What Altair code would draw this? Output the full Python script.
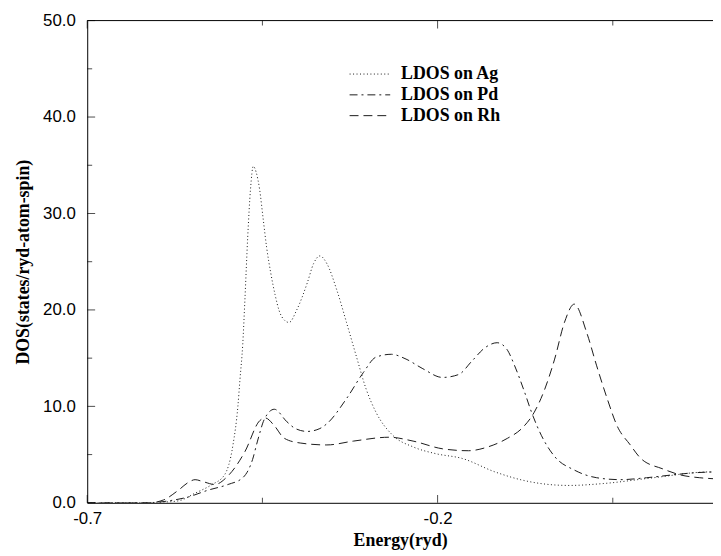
import altair as alt
import pandas as pd

# ---------------- data ----------------
series_names = ["LDOS on Ag", "LDOS on Pd", "LDOS on Rh"]

ag_energy = [-0.700, -0.641, -0.598, -0.570, -0.546, -0.523, -0.504, -0.492, -0.485, -0.482,
             -0.478, -0.475, -0.471, -0.467, -0.463, -0.459, -0.454, -0.449, -0.444, -0.438,
             -0.432, -0.426, -0.418, -0.412, -0.401, -0.386, -0.377, -0.368, -0.358, -0.344,
             -0.330, -0.316, -0.302, -0.288, -0.264, -0.235, -0.203, -0.165, -0.118, -0.076,
             -0.033, -0.012, 0.037, 0.108, 0.188, 0.193]
ag_dos = [0.0, 0.0, 0.05, 0.2, 1.0, 1.85, 2.9, 6.0, 10.0, 12.8,
          16.5, 21.0, 27.5, 32.5, 34.9, 34.3, 32.5, 29.5, 26.5, 23.8,
          21.6, 19.9, 18.9, 18.7, 20.0, 22.8, 24.8, 25.6, 24.8, 22.1,
          18.7, 15.2, 11.8, 9.4, 7.0, 5.8, 5.1, 4.6, 3.2, 2.3,
          1.85, 1.8, 2.0, 2.6, 3.2, 3.2]

pd_energy = [-0.700, -0.612, -0.584, -0.556, -0.528, -0.499, -0.478, -0.464, -0.457, -0.447,
             -0.433, -0.415, -0.403, -0.386, -0.368, -0.358, -0.330, -0.306, -0.288, -0.266,
             -0.245, -0.221, -0.193, -0.170, -0.151, -0.132, -0.115, -0.101, -0.090, -0.076,
             -0.066, -0.052, -0.033, -0.005, 0.027, 0.061, 0.098, 0.136, 0.164, 0.193]
pd_dos = [0.0, 0.0, 0.2, 0.6, 1.3, 1.9, 2.6, 4.5, 6.4, 8.7,
          9.7, 8.4, 7.7, 7.4, 7.7, 8.2, 10.8, 13.5, 15.1, 15.4,
          14.9, 13.9, 13.0, 13.3, 14.7, 16.1, 16.6, 15.9, 14.2, 11.5,
          9.4, 7.0, 4.8, 3.4, 2.6, 2.4, 2.6, 2.9, 3.1, 3.2]

rh_energy = [-0.700, -0.612, -0.591, -0.570, -0.556, -0.546, -0.535, -0.518, -0.499, -0.475,
             -0.454, -0.446, -0.433, -0.419, -0.396, -0.358, -0.320, -0.269, -0.235, -0.193,
             -0.156, -0.128, -0.100, -0.080, -0.062, -0.047, -0.033, -0.019, -0.005, 0.013,
             0.027, 0.042, 0.056, 0.075, 0.090, 0.122, 0.146, 0.174, 0.193]
rh_dos = [0.0, 0.0, 0.3, 1.3, 2.1, 2.4, 2.2, 1.9, 2.8, 5.3,
          8.5, 8.8, 8.0, 6.7, 6.2, 6.0, 6.4, 6.8, 6.4, 5.6,
          5.4, 5.8, 6.7, 7.7, 9.4, 11.8, 14.9, 18.7, 20.6, 17.6,
          14.2, 10.8, 8.0, 6.0, 4.6, 3.5, 2.9, 2.6, 2.5]

x_major = [-0.7, -0.2]
x_minor = [-0.45, 0.05]
y_major = [0, 10, 20, 30, 40, 50]
y_minor = [5, 15, 25, 35, 45]

dash_styles = [[1, 2.5], [8, 4, 2, 4], [9, 5]]

# ---------------- build table ----------------
rows = []
for name, es, ds in zip(series_names, [ag_energy, pd_energy, rh_energy], [ag_dos, pd_dos, rh_dos]):
    for order, (e, d) in enumerate(zip(es, ds)):
        rows.append({"series": name, "energy": e, "dos": d, "order": order})
df = pd.DataFrame(rows)

x_scale = alt.Scale(domain=[-0.7, 0.193], nice=False, zero=False)
y_scale = alt.Scale(domain=[0, 50], nice=False)

label_expr = "datum.value < 0 ? '-' + format(abs(datum.value), '.1f') : format(datum.value, '.1f')"

axis_style = dict(
    ticks=False, tickSize=0, grid=False, domainColor="black", domainWidth=1,
    labelFont="Liberation Sans", labelFontSize=17, labelColor="black", labelFlush=False,
    titleFont="Liberation Serif", titleFontSize=18, titleFontWeight="bold", titleColor="black",
)
x_axis = alt.Axis(values=x_major, labelExpr=label_expr, title="Energy(ryd)",
                  labelPadding=8, titlePadding=5, **axis_style)
y_axis = alt.Axis(values=y_major, labelExpr=label_expr, title="DOS(states/ryd-atom-spin)",
                  labelPadding=12, titlePadding=10, **axis_style)

lines = alt.Chart(df).mark_line(interpolate="monotone", color="#1a1a1a", strokeWidth=1, clip=True).encode(
    x=alt.X("energy:Q", scale=x_scale, axis=x_axis),
    y=alt.Y("dos:Q", scale=y_scale, axis=y_axis),
    strokeDash=alt.StrokeDash("series:N", scale=alt.Scale(domain=series_names, range=dash_styles), legend=None),
    order="order:Q",
)

# inward ticks
def xticks(vals, size, at, sign):
    return alt.Chart(pd.DataFrame({"energy": vals})).mark_tick(
        orient="vertical", size=size, thickness=1, color="black", yOffset=sign * size / 2
    ).encode(x=alt.X("energy:Q", scale=x_scale, axis=x_axis), y=alt.YDatum(at, axis=y_axis))

def yticks(vals, size):
    return alt.Chart(pd.DataFrame({"dos": vals})).mark_tick(
        orient="horizontal", size=size, thickness=1, color="black", xOffset=size / 2
    ).encode(y=alt.Y("dos:Q", scale=y_scale, axis=y_axis), x=alt.XDatum(-0.7, axis=x_axis))

tick_layers = [
    xticks(x_major, 8, 0, -1), xticks(x_minor, 5, 0, -1),
    xticks(x_major, 8, 50, 1), xticks(x_minor, 5, 50, 1),
    yticks(y_major, 8), yticks(y_minor, 5),
]

top_rule = alt.Chart(pd.DataFrame({"a": [0]})).mark_rule(color="black", strokeWidth=1).encode(
    y=alt.YDatum(50, axis=y_axis)
)

# legend drawn inside plot
legend_layers = []
for i, (name, dash) in enumerate(zip(series_names, dash_styles)):
    ypix = 54 + i * 21
    ldf = pd.DataFrame({"label": [name]})
    legend_layers.append(
        alt.Chart(ldf).mark_rule(color="#1a1a1a", strokeWidth=1, strokeDash=dash).encode(
            x=alt.value(265), x2=alt.value(306), y=alt.value(ypix)
        )
    )
    legend_layers.append(
        alt.Chart(ldf).mark_text(align="left", baseline="middle", font="Liberation Serif",
                                 fontSize=18, fontWeight="bold", color="black").encode(
            x=alt.value(317), y=alt.value(ypix), text="label:N"
        )
    )

chart = alt.layer(lines, *tick_layers, top_rule, *legend_layers).properties(
    width=632, height=487,
    padding={"left": 80, "top": 10, "right": 0, "bottom": 50},
    autosize=alt.AutoSizeParams(type="none"),
    background="white",
).configure_view(stroke=None)

chart.save("out.html", embed_options={"renderer": "svg", "actions": False})
